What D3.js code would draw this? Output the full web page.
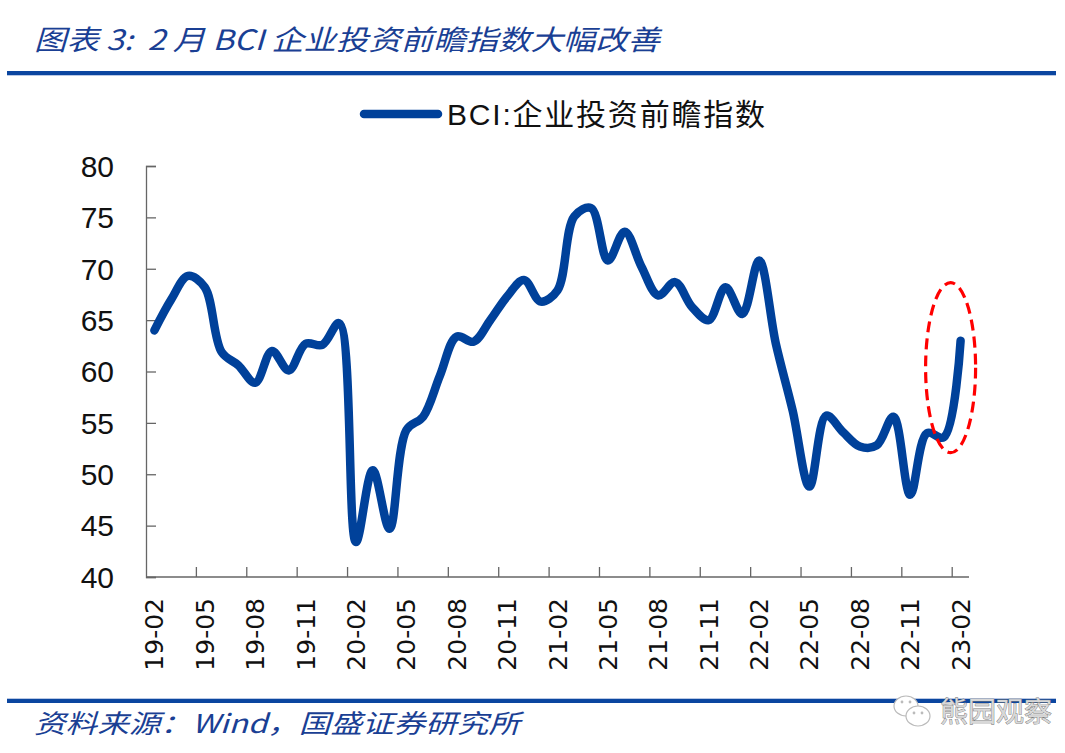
<!DOCTYPE html>
<html>
<head>
<meta charset="utf-8">
<script src="https://cdn.jsdelivr.net/npm/d3@7"></script>
<style>
  html, body { margin: 0; padding: 0; background: #fff; }
  svg { display: block; }
</style>
</head>
<body>
<svg id="chart" width="1065" height="753"></svg>
<script>
const months = ["19-02","19-03","19-04","19-05","19-06","19-07","19-08","19-09","19-10","19-11","19-12",
  "20-01","20-02","20-03","20-04","20-05","20-06","20-07","20-08","20-09","20-10","20-11","20-12",
  "21-01","21-02","21-03","21-04","21-05","21-06","21-07","21-08","21-09","21-10","21-11","21-12",
  "22-01","22-02","22-03","22-04","22-05","22-06","22-07","22-08","22-09","22-10","22-11","22-12",
  "23-01","23-02"];
const bciInvest = [64.0,67.0,69.3,68.2,61.9,60.6,58.9,62.0,60.1,62.7,62.6,
  64.7,43.4,50.4,44.7,54.3,55.6,59.6,63.4,62.9,65.0,67.3,68.9,
  66.8,67.9,75.1,75.9,70.8,73.6,70.2,67.4,68.7,66.3,65.0,68.2,
  65.6,70.8,62.7,56.2,48.8,55.7,54.1,52.7,52.8,55.6,48.0,54.0,
  53.6,63.0];
const yTicks = [40,45,50,55,60,65,70,75,80];
const seriesName = "BCI:企业投资前瞻指数";
const titleText = "图表 3:  2 月 BCI 企业投资前瞻指数大幅改善";
const sourceText = "资料来源：Wind，国盛证券研究所";
const watermark = "熊园观察";

const svg = d3.select("#chart");
const blue = "#00419a";
const ruleBlue = "#0b46a0";

// header
svg.append("text").attr("x", 34).attr("y", 50)
  .attr("font-family", "'Noto Sans CJK SC', 'DejaVu Sans', sans-serif")
  .attr("font-style", "italic").attr("font-size", 28).attr("fill", "#1a3f94")
  .attr("textLength", 626).attr("lengthAdjust", "spacingAndGlyphs")
  .attr("xml:space", "preserve")
  .text(titleText);
svg.append("rect").attr("x", 7).attr("y", 71).attr("width", 1049).attr("height", 4).attr("fill", ruleBlue);
svg.append("rect").attr("x", 7).attr("y", 75).attr("width", 1049).attr("height", 1).attr("fill", "#b9c8e4");

// footer
svg.append("rect").attr("x", 7).attr("y", 699).attr("width", 1049).attr("height", 4).attr("fill", ruleBlue);
svg.append("rect").attr("x", 7).attr("y", 698).attr("width", 1049).attr("height", 1).attr("fill", "#b9c8e4");
svg.append("text").attr("x", 34).attr("y", 733)
  .attr("font-family", "'Noto Sans CJK SC', 'DejaVu Sans', sans-serif")
  .attr("font-style", "italic").attr("font-size", 26).attr("fill", "#1a3f94")
  .attr("textLength", 486).attr("lengthAdjust", "spacingAndGlyphs")
  .text(sourceText);

// scales
const x = d3.scaleBand().domain(months).range([146, 969]).padding(0);
const y = d3.scaleLinear().domain([40, 80]).range([577, 166]);
const cx = m => x(m) + x.bandwidth() / 2;

// y axis
const yAxis = svg.append("g").attr("transform", "translate(146,0)")
  .call(d3.axisRight(y).tickValues(yTicks).tickSize(10).tickFormat(""));
yAxis.select(".domain").attr("stroke", "#666").attr("stroke-width", 1.3);
yAxis.selectAll(".tick line").attr("stroke", "#666").attr("stroke-width", 1.3);
svg.append("g").selectAll("text").data(yTicks).join("text")
  .attr("x", 114).attr("y", d => y(d)).attr("dy", "0.36em")
  .attr("text-anchor", "end")
  .attr("font-family", "'Liberation Sans', Arial, sans-serif")
  .attr("font-size", 30).attr("fill", "#111")
  .text(d => d);

// x axis
const tickMonths = months.filter((m, i) => i > 0 && i % 3 === 0);
svg.append("line").attr("x1", 146).attr("x2", 969).attr("y1", 577).attr("y2", 577)
  .attr("stroke", "#666").attr("stroke-width", 1.3);
svg.append("g").selectAll("line").data(tickMonths).join("line")
  .attr("x1", d => x(d)).attr("x2", d => x(d)).attr("y1", 577).attr("y2", 567)
  .attr("stroke", "#666").attr("stroke-width", 1.3);
const labelMonths = months.filter((m, i) => i % 3 === 0);
svg.append("g").selectAll("text").data(labelMonths).join("text")
  .attr("transform", d => `translate(${cx(d)},598) rotate(-90)`)
  .attr("text-anchor", "end").attr("dy", "0.36em")
  .attr("font-family", "'DejaVu Sans', Verdana, sans-serif")
  .attr("font-size", 25).attr("fill", "#111")
  .text(d => d);

// line
const line = d3.line()
  .x((d, i) => cx(months[i]))
  .y(d => y(d))
  .curve(d3.curveCatmullRom.alpha(0.5));
svg.append("path").datum(bciInvest)
  .attr("d", line).attr("fill", "none")
  .attr("stroke", blue).attr("stroke-width", 8.5)
  .attr("stroke-linejoin", "round").attr("stroke-linecap", "round");

// red dashed ellipse around last point
const last = months.length - 1;
svg.append("ellipse")
  .attr("cx", cx(months[last]) - 10).attr("cy", y(bciInvest[last]) + 27)
  .attr("rx", 25).attr("ry", 85)
  .attr("fill", "none").attr("stroke", "#ff0000").attr("stroke-width", 3.2)
  .attr("stroke-dasharray", "11,6");

// legend
svg.append("line").attr("x1", 364).attr("x2", 438).attr("y1", 114).attr("y2", 114)
  .attr("stroke", blue).attr("stroke-width", 8.5).attr("stroke-linecap", "round");
svg.append("text").attr("x", 447).attr("y", 125)
  .attr("font-family", "'Liberation Sans', 'Noto Sans CJK SC', sans-serif")
  .attr("font-size", 30).attr("fill", "#111")
  .attr("textLength", 318).attr("lengthAdjust", "spacing")
  .text(seriesName);

// watermark
const wm = svg.append("g").attr("transform", "translate(893,700)");
wm.append("ellipse").attr("cx", 13).attr("cy", 6).attr("rx", 12).attr("ry", 10)
  .attr("fill", "#fff").attr("stroke", "#bbb").attr("stroke-width", 1.2);
wm.append("ellipse").attr("cx", 25).attr("cy", 16).attr("rx", 12).attr("ry", 10)
  .attr("fill", "#fff").attr("stroke", "#bbb").attr("stroke-width", 1.2);
[[9,2],[17,2],[21,13],[29,13]].forEach(p => wm.append("circle").attr("cx", p[0]).attr("cy", p[1]).attr("r", 1.4).attr("fill", "#bbb"));
wm.append("text").attr("x", 47).attr("y", 22)
  .attr("font-family", "'Noto Sans CJK SC', sans-serif")
  .attr("font-size", 28).attr("fill", "#d8d8d8").attr("stroke", "#777").attr("stroke-width", 0.8)
  .attr("paint-order", "stroke")
  .text(watermark);
</script>
</body>
</html>
